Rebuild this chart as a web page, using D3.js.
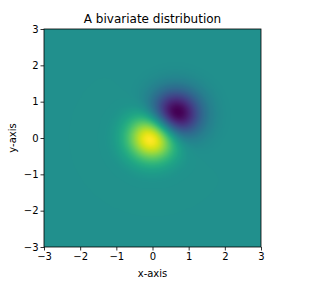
<!DOCTYPE html>
<html>
<head>
<meta charset="utf-8">
<script src="https://cdn.jsdelivr.net/npm/d3@7"></script>
<style>
  body { margin: 0; background: #fff; }
  svg { display: block; font-family: "DejaVu Sans", sans-serif; }
</style>
</head>
<body>
<div id="wrapper"></div>
<script>
// two gaussian bumps: centre x, centre y, spread x, spread y, amplitude
var bumpX = [0.0, 0.63];
var bumpY = [0.02, 0.65];
var bumpSx = [0.68, 0.68];
var bumpSy = [0.64, 0.64];
var bumpAmp = [1, -1];

var xTicks = [-3, -2, -1, 0, 1, 2, 3];
var yTicks = [-3, -2, -1, 0, 1, 2, 3];
var extent = [-3, 3];
var gridStep = 0.025;

var dimension = {
    width: 329,
    height: 297,
    margin: { top: 29, right: 68, bottom: 50, left: 44 }
};
dimension.boundedWidth = dimension.width - dimension.margin.left - dimension.margin.right;
dimension.boundedHeight = dimension.height - dimension.margin.top - dimension.margin.bottom;

// sample the field on a regular grid
var nx = Math.round((extent[1] - extent[0]) / gridStep);
var cells = [];
for (let j = 0; j < nx; j++) {
    for (let i = 0; i < nx; i++) {
        var x = extent[0] + (i + 0.5) * gridStep;
        var y = extent[0] + (j + 0.5) * gridStep;
        var z = 0;
        for (let k = 0; k < bumpAmp.length; k++) {
            var dx = (x - bumpX[k]) / bumpSx[k];
            var dy = (y - bumpY[k]) / bumpSy[k];
            z += bumpAmp[k] * Math.exp(-(dx * dx + dy * dy));
        }
        cells.push({ i: i, j: j, x: x, y: y, z: z });
    }
}

var zExt = d3.extent(cells, d => d.z);
var color = d3.scaleSequential(d3.interpolateViridis).domain(zExt);

var xScale = d3.scaleLinear().domain(extent).range([0, dimension.boundedWidth]);
var yScale = d3.scaleLinear().domain(extent).range([dimension.boundedHeight, 0]);

// paint the grid onto a small canvas, then stretch it into the svg (smooth like imshow)
var canvas = document.createElement("canvas");
canvas.width = nx;
canvas.height = nx;
var ctx = canvas.getContext("2d");
var img = ctx.createImageData(nx, nx);
cells.forEach(d => {
    var c = d3.rgb(color(d.z));
    var idx = ((nx - 1 - d.j) * nx + d.i) * 4;
    img.data[idx] = c.r;
    img.data[idx + 1] = c.g;
    img.data[idx + 2] = c.b;
    img.data[idx + 3] = 255;
});
ctx.putImageData(img, 0, 0);

const wrapper = d3.select("#wrapper")
    .append("svg")
    .attr("width", dimension.width)
    .attr("height", dimension.height);

const bounds = wrapper.append("g")
    .attr("transform", `translate(${dimension.margin.left},${dimension.margin.top})`);

bounds.append("image")
    .attr("x", xScale(extent[0]))
    .attr("y", yScale(extent[1]))
    .attr("width", xScale(extent[1]) - xScale(extent[0]))
    .attr("height", yScale(extent[0]) - yScale(extent[1]))
    .attr("preserveAspectRatio", "none")
    .attr("href", canvas.toDataURL());

const fmt = d => d < 0 ? "\u2212" + Math.abs(d) : String(d);

const xAxis = bounds.append("g")
    .attr("transform", `translate(0,${dimension.boundedHeight})`)
    .call(d3.axisBottom(xScale).tickValues(xTicks).tickFormat(fmt).tickSize(3.5).tickPadding(2));

const yAxis = bounds.append("g")
    .call(d3.axisLeft(yScale).tickValues(yTicks).tickFormat(fmt).tickSize(3.5).tickPadding(2));

[xAxis, yAxis].forEach(a => {
    a.select(".domain").remove();
    a.selectAll("text").attr("font-size", 10).attr("fill", "#000").attr("font-family", "DejaVu Sans");
    a.selectAll("line").attr("stroke", "#000").attr("stroke-width", 0.8);
});

bounds.append("rect")
    .attr("width", dimension.boundedWidth)
    .attr("height", dimension.boundedHeight)
    .attr("fill", "none")
    .attr("stroke", "#000")
    .attr("stroke-width", 0.8);

wrapper.append("text")
    .attr("x", dimension.margin.left + dimension.boundedWidth / 2)
    .attr("y", dimension.margin.top - 6)
    .attr("text-anchor", "middle")
    .attr("font-size", 12)
    .text("A bivariate distribution");

wrapper.append("text")
    .attr("x", dimension.margin.left + dimension.boundedWidth / 2)
    .attr("y", 277)
    .attr("text-anchor", "middle")
    .attr("font-size", 10)
    .text("x-axis");

wrapper.append("text")
    .attr("transform", `translate(16,${dimension.margin.top + dimension.boundedHeight / 2}) rotate(-90)`)
    .attr("text-anchor", "middle")
    .attr("font-size", 10)
    .text("y-axis");
</script>
</body>
</html>
